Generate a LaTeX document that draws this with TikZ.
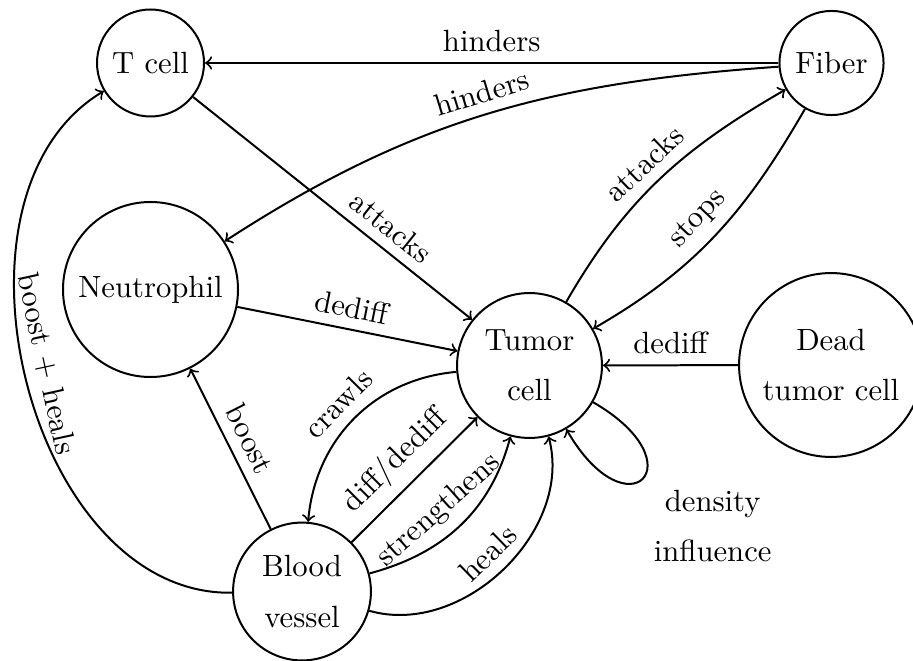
\documentclass[tikz,border=0pt]{standalone}
\begin{document}
\begin{tikzpicture}[x=0.3257pt,y=-0.3257pt,
  every node/.style={font=\fontsize{10pt}{16.3pt}\selectfont},
  state/.style={circle,draw,line width=0.65pt,inner sep=0pt,align=center},
  conn/.style={->,line width=0.65pt},
  lbl/.style={sloped,above}]
\useasboundingbox (0,0) rectangle (913,661);
\node[state,minimum size=34.85pt] (tc) at (150.5,63) {T cell};
\node[state,minimum size=33.9pt] (fi) at (831.5,63) {Fiber};
\node[state,minimum size=57pt] (ne) at (150.5,289.5) {Neutrophil};
\node[state,minimum size=47.2pt] (tu) at (529.5,365.5) {Tumor\\cell};
\node[state,minimum size=59.9pt] (de) at (831,365) {Dead\\tumor cell};
\node[state,minimum size=44.9pt] (bv) at (302,591.5) {Blood\\vessel};
\draw[conn] (fi) -- node[above] {hinders} (tc);
\draw[conn] (fi.184) to[out=184,in=33] node[lbl] {hinders} (ne.33);
\draw[conn] (tc) -- node[lbl,pos=0.66] {attacks} (tu);
\draw[conn] (ne) -- node[lbl] {dediff} (tu);
\draw[conn] (de) -- node[above] {dediff} (tu);
\draw[conn] (tu.60) to[out=60,in=210] node[lbl] {attacks} (fi.210);
\draw[conn] (fi.240) to[out=240,in=30] node[lbl] {stops} (tu.30);
\draw[conn] (tu.185) to[out=185,in=85] node[lbl] {crawls} (bv.85);
\draw[conn] (bv) -- node[lbl] {diff/dediff} (tu);
\draw[conn] (bv.15) to[out=15,in=255] node[lbl,pos=0.47] {strengthens} (tu.255);
\draw[conn] (bv.-16) to[out=-16,in=285] node[lbl] {heals} (tu.285);
\draw[conn] (bv) -- node[lbl] {boost} (ne);
\draw[conn] (bv.181) to[out=181,in=211] node[lbl,pos=0.52] {boost + heals} (tc.211);
\draw[conn] (tu) to[out=-30,in=-60,min distance=40pt] node[below right,align=center] {density\\influence} (tu);
\end{tikzpicture}
\end{document}
